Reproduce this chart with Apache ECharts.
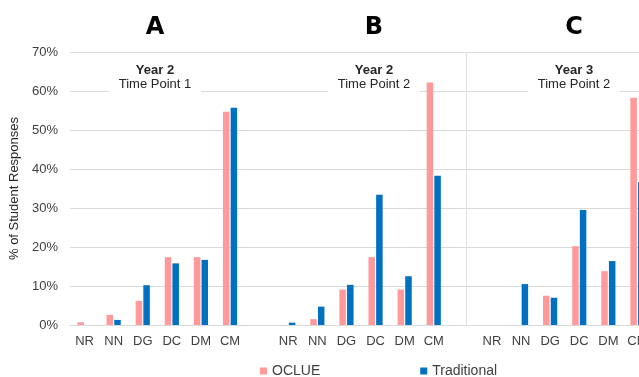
<!DOCTYPE html>
<html>
<head>
<meta charset="utf-8">
<script src="https://cdn.jsdelivr.net/npm/echarts@6/dist/echarts.min.js"></script>
<style>
  html, body { margin: 0; padding: 0; background: #fff; }
  #chart { width: 639px; height: 377px; }
</style>
</head>
<body>
<div id="chart"></div>
<script>
// three panels on one category axis, an empty slot between panels
const categories = ['NR', 'NN', 'DG', 'DC', 'DM', 'CM', '',
                    'NR', 'NN', 'DG', 'DC', 'DM', 'CM', '',
                    'NR', 'NN', 'DG', 'DC', 'DM', 'CM']
const oclue = [0.7, 2.6, 6.2, 17.4, 17.4, 54.7, null,
               0, 1.5, 9.1, 17.4, 9.1, 62.2, null,
               0, 0, 7.5, 20.2, 13.8, 58.3]
const traditional = [0, 1.3, 10.2, 15.8, 16.7, 55.7, null,
                     0.6, 4.7, 10.3, 33.4, 12.5, 38.3, null,
                     0, 10.5, 7.0, 29.5, 16.4, 36.6]
const panelLetters = ['A', 'B', 'C']
const panelYears = ['Year 2', 'Year 2', 'Year 3']
const panelPoints = ['Time Point 1', 'Time Point 2', 'Time Point 2']

const font = 'Liberation Sans, Arial, sans-serif'
const panelX = [155, 374, 574]
const boxPad = 10

const titles = []
panelLetters.forEach((l, i) => {
  titles.push({
    text: l, left: panelX[i], top: 16, textAlign: 'center', padding: 0,
    textStyle: { fontFamily: 'DejaVu Sans', fontSize: 24, fontWeight: 'bold', color: '#000' }
  })
  titles.push({
    text: panelYears[i], subtext: panelPoints[i],
    left: panelX[i] - boxPad, top: 63, textAlign: 'center',
    itemGap: 1, padding: [1, boxPad, 3, boxPad], backgroundColor: '#fff',
    textStyle: { fontFamily: font, fontSize: 13, fontWeight: 'bold', color: '#262626' },
    subtextStyle: { fontFamily: font, fontSize: 13, color: '#262626' }
  })
})

const chart = echarts.init(document.getElementById('chart'))
chart.setOption({
  animation: false,
  textStyle: { fontFamily: font },
  title: titles,
  legend: {
    left: 255, top: 359,
    itemWidth: 7, itemHeight: 7, itemGap: 100,
    icon: 'rect',
    textStyle: { fontFamily: font, fontSize: 14, color: '#404040' },
    data: ['OCLUE', 'Traditional']
  },
  grid: { left: 70, top: 52, width: 582, height: 273, outerBoundsMode: 'none' },
  xAxis: {
    type: 'category',
    data: categories,
    axisLine: { lineStyle: { color: '#d9d9d9' } },
    axisTick: { show: false },
    axisLabel: { interval: 0, margin: 10, fontSize: 13, color: '#404040', fontFamily: font }
  },
  yAxis: {
    type: 'value',
    min: 0, max: 70, interval: 10,
    name: '% of Student Responses',
    nameLocation: 'middle',
    nameGap: 40,
    nameTextStyle: { fontSize: 13, color: '#262626', fontFamily: font },
    axisLabel: { formatter: '{value}%', margin: 12, fontSize: 13, color: '#404040', fontFamily: font },
    splitLine: { lineStyle: { color: '#d9d9d9' } }
  },
  series: [
    {
      name: 'OCLUE', type: 'bar', data: oclue, z: 8,
      barWidth: 6.5, barGap: '18%',
      itemStyle: { color: '#ff999a' }
    },
    {
      name: 'Traditional', type: 'bar', data: traditional, z: 8,
      barWidth: 6.5,
      itemStyle: { color: '#0070c0' },
      markLine: {
        silent: true, symbol: 'none', label: { show: false },
        lineStyle: { color: '#e0e0e0', type: 'solid', width: 1 },
        data: [{ xAxis: 13 }]
      }
    }
  ]
})
</script>
</body>
</html>
